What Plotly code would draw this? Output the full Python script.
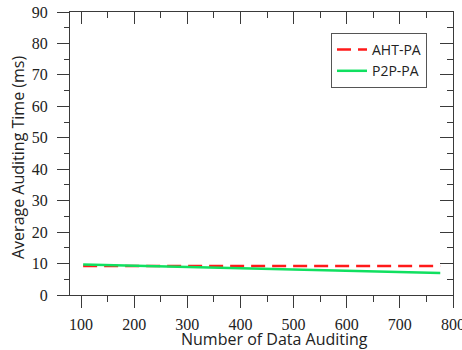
import plotly.graph_objects as go

# Data
aht_x = [104, 200, 300, 400, 500, 600, 700, 776]
aht_y = [9.2, 9.2, 9.2, 9.2, 9.2, 9.2, 9.2, 9.2]
p2p_x = [104, 200, 300, 400, 500, 600, 700, 776]
p2p_y = [9.7, 9.3, 8.9, 8.6, 8.2, 7.8, 7.4, 7.0]
x_title = "Number of Data Auditing"
y_title = "Average Auditing Time (ms)"

AX = "#3a3a3a"
TXT = "#222222"
SERIF = "Liberation Serif, Times New Roman, DejaVu Serif, serif"
SANS = "Open Sans"

fig = go.Figure()
fig.add_trace(go.Scatter(x=aht_x, y=aht_y, mode="lines", name="AHT-PA",
                         line=dict(color="#ff1a1a", width=2.5, dash="14px,7px")))
fig.add_trace(go.Scatter(x=p2p_x, y=p2p_y, mode="lines", name="P2P-PA",
                         line=dict(color="#10e060", width=2.5)))
fig.add_trace(go.Scatter(x=[None], y=[None], xaxis="x2", yaxis="y2", showlegend=False))

xr = [79.3, 800]
yr = [0, 90]

fig.update_layout(
    width=462, height=350,
    margin=dict(l=70, r=9, t=12, b=55, autoexpand=False),
    paper_bgcolor="white", plot_bgcolor="white",
    showlegend=True,
    legend=dict(x=(331 - 70) / 383, y=(295 - 33) / 283, xanchor="left", yanchor="top",
                bgcolor="white", bordercolor="#555555", borderwidth=1,
                font=dict(family=SANS, size=14, color=TXT),
                tracegroupgap=0, itemwidth=30),
    xaxis=dict(range=xr, showgrid=False, zeroline=False, automargin=False,
               showline=True, linecolor=AX, linewidth=1,
               ticks="outside", ticklen=12, tickcolor=AX, tickwidth=1,
               tick0=0, dtick=100, ticklabeloverflow="allow",
               minor=dict(ticks="outside", ticklen=6, tickcolor=AX, tick0=50, dtick=100),
               tickfont=dict(family=SERIF, size=16, color=TXT),
               ticklabelstandoff=3),
    yaxis=dict(range=yr, showgrid=False, zeroline=False, automargin=False,
               showline=True, linecolor=AX, linewidth=1,
               ticks="outside", ticklen=12, tickcolor=AX, tickwidth=1,
               tick0=0, dtick=10, ticklabeloverflow="allow",
               minor=dict(ticks="outside", ticklen=5, tickcolor=AX, tick0=5, dtick=10),
               tickfont=dict(family=SERIF, size=16, color=TXT),
               ticklabelstandoff=6),
    xaxis2=dict(range=xr, overlaying="x", side="top", anchor="y", automargin=False,
                showgrid=False, zeroline=False, showticklabels=False,
                showline=True, linecolor=AX, linewidth=1,
                ticks="inside", ticklen=12, tickcolor=AX,
                tick0=0, dtick=100,
                minor=dict(ticks="inside", ticklen=6, tickcolor=AX, tick0=50, dtick=100)),
    yaxis2=dict(range=yr, overlaying="y", side="right", anchor="x", automargin=False,
                showgrid=False, zeroline=False, showticklabels=False,
                showline=True, linecolor=AX, linewidth=1,
                ticks="inside", ticklen=13, tickcolor=AX,
                tick0=0, dtick=10,
                minor=dict(ticks="inside", ticklen=6, tickcolor=AX, tick0=5, dtick=10)),
    annotations=[
        dict(text=x_title, xref="paper", yref="paper", x=(274 - 70) / 383, y=-44 / 283,
             xanchor="center", yanchor="middle", showarrow=False,
             font=dict(family=SANS, size=16, color=TXT)),
        dict(text=y_title, xref="paper", yref="paper", x=-52 / 383, y=(295 - 158) / 283,
             xanchor="center", yanchor="middle", showarrow=False, textangle=-90,
             font=dict(family=SANS, size=16, color=TXT)),
    ],
)

fig.write_html("out.html", config={"displayModeBar": False},
               post_script="document.body.style.margin='0';document.body.style.overflow='hidden';")
